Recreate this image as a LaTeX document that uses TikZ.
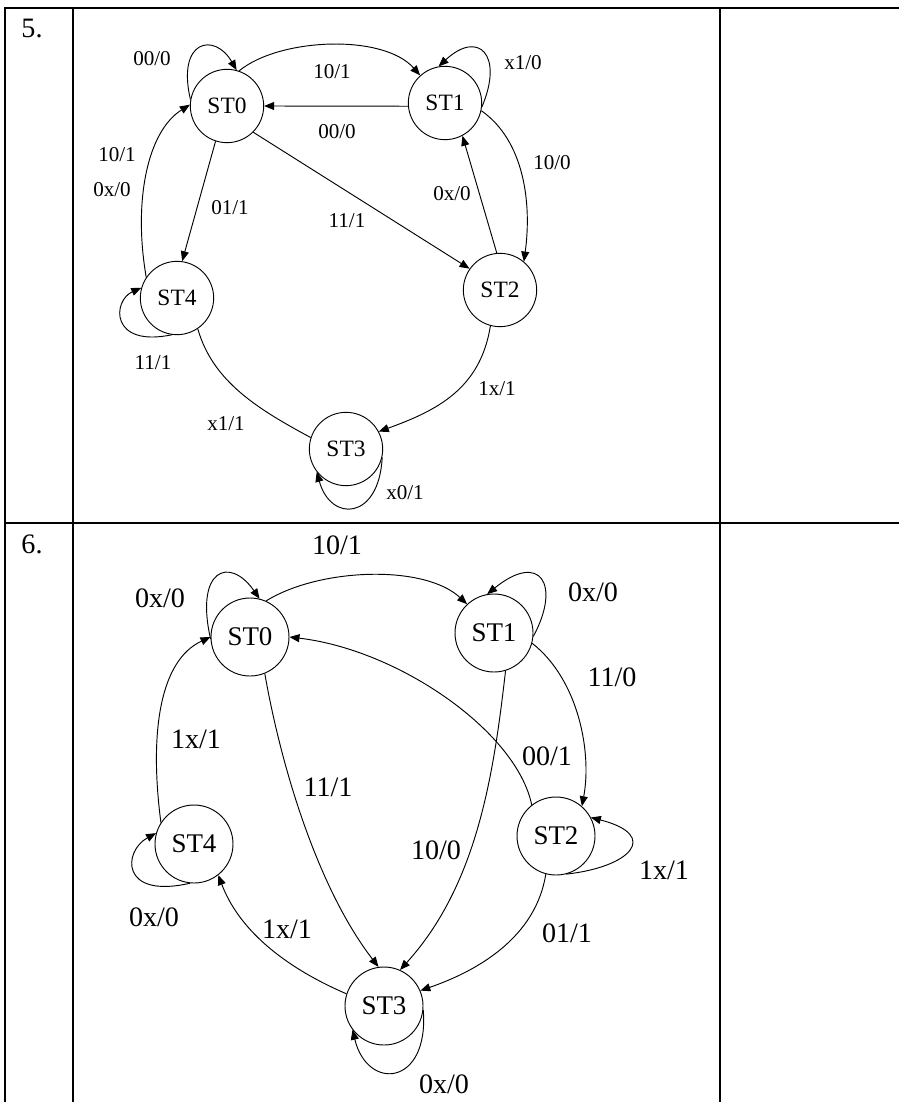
\documentclass[tikz,border=0pt]{standalone}
\usepackage{fontspec}
\setmainfont{Liberation Serif}
\usetikzlibrary{arrows.meta}

\begin{document}
\begin{tikzpicture}[x=0.03cm, y=-0.03cm,
    every node/.style={inner sep=0pt},
    state five/.style={draw, circle, minimum size=2.2cm, line width=0.8pt, font=\fontsize{20}{20}\selectfont},
    state six/.style={draw, circle, minimum size=2.34cm, line width=0.8pt, font=\fontsize{23}{23}\selectfont},
    lab five/.style={font=\fontsize{18}{18}\selectfont},
    lab six/.style={font=\fontsize{24}{24}\selectfont},
    trans/.style={line width=0.8pt, -{Triangle[length=3mm, width=2.4mm]}},
    grid line/.style={line width=1.8pt}
]
    \useasboundingbox (0,0) rectangle (899,1102);

    % table
    \draw[grid line] (5,1102) -- (5,8) -- (899,8);
    \draw[grid line] (5,523) -- (899,523);
    \foreach \x in {73,720}
        \draw[grid line] (\x,8) -- (\x,1102);

    \node[font=\fontsize{24}{24}\selectfont] (num five) at (32,28) {5.};
    \node[font=\fontsize{24}{24}\selectfont] (num six) at (32,544) {6.};

    % machine 5
    \foreach \n/\x/\y in {0/227/106, 1/445/103, 2/500/290, 3/346/449, 4/177/298}
        \node[state five] (five ST\n) at (\x,\y) {ST\n};

    \draw[trans] (five ST0.170) .. controls +(-14,-60) and +(-22,-38) .. (five ST0.75);
    \draw[trans] (five ST0.71) .. controls +(40,-33) and +(-37,-42) .. (five ST1.132);
    \draw[trans] (five ST1.185) -- (five ST0.0);
    \draw[trans] (five ST1.354) .. controls +(22,-52) and +(40,-37) .. (five ST1.100);
    \draw[trans] (five ST1.348) .. controls +(43,30) and +(8,-58) .. (five ST2.50);
    \draw[trans] (five ST2.95) -- (five ST1.298);
    \draw[trans] (five ST0.315) -- (five ST2.145);
    \draw[trans] (five ST0.252) -- (five ST4.82);
    \draw[trans] (five ST4.146) .. controls +(-13,-75) and +(-43,27) .. (five ST0.178);
    \draw[trans] (five ST4.262) .. controls +(-62,13) and +(-29,13) .. (five ST4.164);
    \draw[line width=0.8pt] (five ST4.304) .. controls +(15,53) and +(-52,-28) .. (five ST3.162);
    \draw[trans] (five ST2.255) .. controls +(-10,63) and +(58,-21) .. (five ST3.28);
    \draw[trans] (five ST3.347) .. controls +(-3,63) and +(14,51) .. (five ST3.218);

    \node[lab five] (l5 a) at (152,59) {00/0};
    \node[lab five] (l5 b) at (332,72) {10/1};
    \node[lab five] (l5 c) at (337,132) {00/0};
    \node[lab five] (l5 d) at (523,63) {x1/0};
    \node[lab five] (l5 e) at (552,163) {10/0};
    \node[lab five] (l5 f) at (452,194) {0x/0};
    \node[lab five] (l5 g) at (347,221) {11/1};
    \node[lab five] (l5 h) at (230,208) {01/1};
    \node[lab five] (l5 i) at (117,155) {10/1};
    \node[lab five] (l5 j) at (112,190) {0x/0};
    \node[lab five] (l5 k) at (153,363) {11/1};
    \node[lab five] (l5 l) at (226,424) {x1/1};
    \node[lab five] (l5 m) at (497,389) {1x/1};
    \node[lab five] (l5 n) at (405,493) {x0/1};

    % machine 6
    \foreach \n/\x/\y in {0/250/637, 1/494/633, 2/556/836, 3/384/1006, 4/194/844}
        \node[state six] (six ST\n) at (\x,\y) {ST\n};

    \draw[trans] (six ST0.183) .. controls +(-16,-70) and +(-30,-43) .. (six ST0.76);
    \draw[trans] (six ST0.66) .. controls +(53,-33) and +(-43,-40) .. (six ST1.133);
    \draw[trans] (six ST1.355) .. controls +(28,-52) and +(53,-43) .. (six ST1.100);
    \draw[trans] (six ST1.345) .. controls +(47,37) and +(10,-53) .. (six ST2.49);
    \draw[trans] (six ST2.128) .. controls +(-15,-73) and +(110,13) .. (six ST0.0);
    \draw[trans] (six ST1.287) .. controls +(-12,105) and +(77,-85) .. (six ST3.66);
    \draw[trans] (six ST0.292) .. controls +(18,102) and +(-58,-75) .. (six ST3.98);
    \draw[trans] (six ST2.285) .. controls +(64,-7) and +(70,18) .. (six ST2.28);
    \draw[trans] (six ST2.255) .. controls +(-10,63) and +(58,-20) .. (six ST3.23);
    \draw[trans] (six ST3.354) .. controls +(6,76) and +(15,62) .. (six ST3.217);
    \draw[trans] (six ST3.162) .. controls +(-65,-28) and +(20,53) .. (six ST4.308);
    \draw[trans] (six ST4.264) .. controls +(-70,16) and +(-33,18) .. (six ST4.164);
    \draw[trans] (six ST4.147) .. controls +(-12,-92) and +(-50,23) .. (six ST0.180);

    \node[lab six] (l6 a) at (160,598) {0x/0};
    \node[lab six] (l6 b) at (337,545) {10/1};
    \node[lab six] (l6 c) at (593,592) {0x/0};
    \node[lab six] (l6 d) at (612,677) {11/0};
    \node[lab six] (l6 e) at (547,756) {00/1};
    \node[lab six] (l6 f) at (196,739) {1x/1};
    \node[lab six] (l6 g) at (328,787) {11/1};
    \node[lab six] (l6 h) at (436,850) {10/0};
    \node[lab six] (l6 i) at (664,870) {1x/1};
    \node[lab six] (l6 j) at (567,933) {01/1};
    \node[lab six] (l6 k) at (444,1084) {0x/0};
    \node[lab six] (l6 l) at (287,929) {1x/1};
    \node[lab six] (l6 m) at (154,917) {0x/0};
\end{tikzpicture}
\end{document}
